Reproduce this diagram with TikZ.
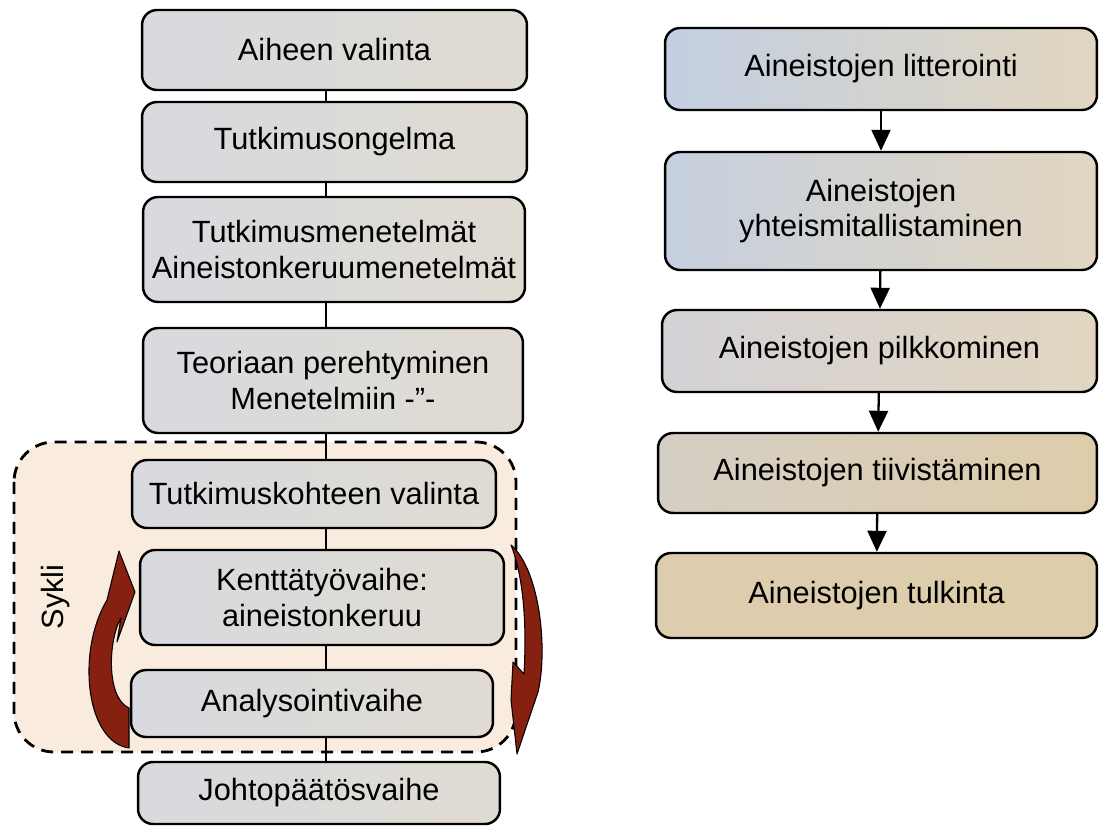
\documentclass[tikz,border=0pt]{standalone}
\usepackage{xcolor}
\usepackage{fontspec}
\setmainfont{Liberation Sans}
\usetikzlibrary{arrows.meta}
\definecolor{phasegray}{RGB}{216,218,223}
\definecolor{phasebeige}{RGB}{224,219,210}
\definecolor{bluegray}{RGB}{194,207,225}
\definecolor{lavgray}{RGB}{212,210,215}
\definecolor{greysand}{RGB}{212,206,196}
\definecolor{sand}{RGB}{222,205,170}
\definecolor{sandlight}{RGB}{226,214,192}
\definecolor{cyclefill}{RGB}{249,235,221}
\definecolor{cyclered}{RGB}{134,32,16}
\newcommand\stepfont{\fontsize{17.5}{20}\selectfont}
\tikzstyle{box}=[draw, line width=1.4pt, rounded corners=0.3cm, align=center, inner sep=0pt, font=\stepfont]
\tikzset{phase/.style={left color=phasegray, right color=phasebeige}}
\tikzset{link/.style={line width=1pt}}
\tikzset{flow/.style={-{Triangle[length=0.42cm,width=0.38cm]}, line width=1.3pt}}
\tikzset{cyclearrow/.style={fill=cyclered, draw=black, line width=0.6pt, line join=round}}
\tikzstyle{cyclearea}=[fill=cyclefill, line width=1.6pt, dash pattern=on 0.24cm off 0.16cm, rounded corners=0.8cm]

\begin{document}
\begin{tikzpicture}[x=0.02cm,y=-0.02cm]
  \useasboundingbox[fill=white] (0,0) rectangle (1102,828);

  %% Cycle area
  \draw[cyclearea] (14,442) rectangle (516,752);
  \draw (56,597) node[rotate=90,font=\stepfont] (sykli) {Sykli};

  %% Left column
  \draw (334.5,50) node[box,phase,minimum width=7.70cm,minimum height=1.60cm] (aihe) {Aiheen valinta};
  \draw (334.5,142) node[box,phase,minimum width=7.70cm,minimum height=1.60cm] (ongelma) {Tutkimusongelma};
  \draw (334,249.5) node[box,phase,minimum width=7.64cm,minimum height=2.10cm] (menetelmat) {Tutkimusmenetelmät\\Aineistonkeruumenetelmät};
  \draw (333,380.5) node[box,phase,minimum width=7.60cm,minimum height=2.10cm] (teoria) {Teoriaan perehtyminen\\Menetelmiin -”-};

  \draw (314,494) node[box,phase,minimum width=7.28cm,minimum height=1.36cm] (kohde) {Tutkimuskohteen valinta};
  \draw (322,597.5) node[box,phase,minimum width=7.28cm,minimum height=1.90cm] (kentta) {Kenttätyövaihe:\\aineistonkeruu};
  \draw (312,703.5) node[box,phase,minimum width=7.24cm,minimum height=1.34cm] (analyysi) {Analysointivaihe};
  \draw (319,793) node[box,phase,minimum width=7.24cm,minimum height=1.24cm] (johto) {Johtopäätösvaihe};

  \coordinate (spine) at (326,0);
  \draw[link] (aihe.south -| spine) -- (ongelma.north -| spine);
  \draw[link] (ongelma.south -| spine) -- (menetelmat.north -| spine);
  \draw[link] (menetelmat.south -| spine) -- (teoria.north -| spine);
  \draw[link] (teoria.south -| spine) -- (kohde.north -| spine);
  \draw[link] (kohde.south -| spine) -- (kentta.north -| spine);
  \draw[link] (kentta.south -| spine) -- (analyysi.north -| spine);
  \draw[link] (analyysi.south -| spine) -- (johto.north -| spine);

  %% Cycle arrows
  \draw[cyclearrow] (129,748) .. controls (86,742) and (76,652) .. (107,600) -- (119,551) -- (135,592) -- (117,642) -- (121,618) .. controls (108,640) and (106,698) .. (129,708) -- cycle;
  \draw[cyclearrow] (511,545) .. controls (540,570) and (548,650) .. (538,692) -- (517,754) -- (511,700) -- (513,662) -- (524,674) .. controls (527,620) and (523,576) .. (511,545) -- cycle;

  %% Right column
  \draw (881,69) node[box,left color=bluegray,right color=sandlight,minimum width=8.64cm,minimum height=1.64cm] (litterointi) {Aineistojen litterointi};
  \draw (881,211) node[box,left color=bluegray!80!lavgray,right color=sandlight,minimum width=8.64cm,minimum height=2.36cm] (yhteismitallistaminen) {Aineistojen\\yhteismitallistaminen};
  \draw (879.5,351) node[box,left color=lavgray,right color=sandlight,minimum width=8.70cm,minimum height=1.64cm] (pilkkominen) {Aineistojen pilkkominen};
  \draw (877.5,473) node[box,left color=greysand,right color=sand,minimum width=8.78cm,minimum height=1.60cm] (tiivistaminen) {Aineistojen tiivistäminen};
  \draw (876.5,595.5) node[box,left color=sand!85!greysand,right color=sand,minimum width=8.82cm,minimum height=1.70cm] (tulkinta) {Aineistojen tulkinta};

  \draw[flow] (litterointi) -- (yhteismitallistaminen);
  \draw[flow] (yhteismitallistaminen) -- (pilkkominen);
  \draw[flow] (pilkkominen) -- (tiivistaminen);
  \draw[flow] (tiivistaminen) -- (tulkinta);
\end{tikzpicture}
\end{document}
